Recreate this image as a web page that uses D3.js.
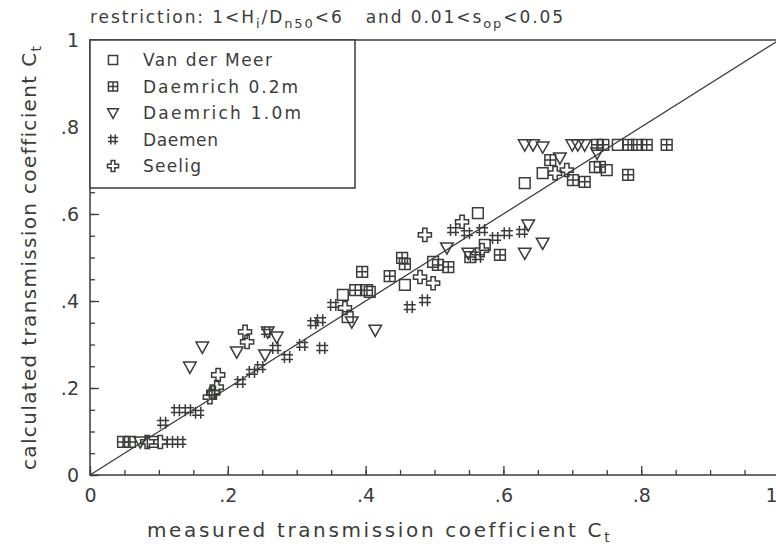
<!DOCTYPE html>
<html>
<head>
<meta charset="utf-8">
<script src="https://cdn.jsdelivr.net/npm/d3@7/dist/d3.min.js"></script>
<style>
  html, body { margin: 0; padding: 0; background: #fff; overflow: hidden; }
  svg { display: block; }
  text { font-family: "DejaVu Sans", "Liberation Sans", sans-serif; fill: #3a3d3a; }
</style>
</head>
<body>
<svg id="chart" width="776" height="551"></svg>
<script>
// ---------- data (measured Ct, calculated Ct) ----------
const vanDerMeer = [
  [0.091,0.076],[0.367,0.414],[0.374,0.363],[0.406,0.421],[0.457,0.437],
  [0.498,0.490],[0.563,0.602],[0.573,0.529],[0.631,0.671],[0.657,0.694],
  [0.766,0.759],[0.733,0.708],[0.750,0.701]
];
const daemrich02 = [
  [0.048,0.076],[0.058,0.076],[0.395,0.467],[0.385,0.425],[0.402,0.425],
  [0.435,0.457],[0.453,0.499],[0.457,0.485],[0.505,0.483],[0.520,0.478],
  [0.552,0.501],[0.595,0.506],[0.668,0.724],[0.701,0.678],[0.718,0.674],
  [0.736,0.759],[0.745,0.759],[0.781,0.759],[0.794,0.759],[0.808,0.759],
  [0.837,0.759],[0.781,0.690],[0.740,0.708]
];
const daemrich10 = [
  [0.073,0.076],[0.145,0.248],[0.163,0.294],[0.213,0.283],[0.254,0.276],
  [0.271,0.317],[0.258,0.329],[0.380,0.352],[0.414,0.333],[0.518,0.522],
  [0.549,0.510],[0.636,0.575],[0.657,0.533],[0.631,0.510],
  [0.631,0.759],[0.643,0.759],[0.657,0.754],[0.682,0.729],
  [0.700,0.759],[0.708,0.759],[0.718,0.759],[0.736,0.740]
];
const daemen = [
  [0.116,0.076],[0.131,0.076],[0.106,0.120],[0.126,0.149],[0.142,0.149],
  [0.157,0.143],[0.177,0.189],[0.218,0.214],[0.235,0.237],[0.247,0.248],
  [0.269,0.292],[0.257,0.329],[0.286,0.271],[0.308,0.299],[0.337,0.292],
  [0.324,0.349],[0.334,0.356],[0.353,0.391],[0.464,0.386],[0.486,0.402],
  [0.527,0.563],[0.547,0.556],[0.569,0.563],[0.588,0.545],[0.605,0.556],
  [0.627,0.559],[0.563,0.501]
];
const seelig = [
  [0.083,0.076],[0.102,0.076],[0.184,0.202],[0.179,0.189],[0.174,0.179],
  [0.186,0.230],[0.225,0.329],[0.228,0.306],[0.370,0.384],[0.479,0.455],
  [0.498,0.441],[0.486,0.552],[0.540,0.582],[0.569,0.517],[0.675,0.694],
  [0.692,0.701]
];
const seriesNames = ["Van der Meer","Daemrich 0.2m","Daemrich 1.0m","Daemen","Seelig"];
const seriesSymbols = ["square","gridsquare","triangledown","hash","cross"];
const majorTicks = [0, 0.2, 0.4, 0.6, 0.8, 1];
const tickLabels = ["0", ".2", ".4", ".6", ".8", "1"];
const minorTicks = d3.range(0, 1.0001, 0.05);
const xTitle = "measured transmission coefficient C";
const yTitle = "calculated transmission coefficient C";

// ---------- layout ----------
const ink = "#3a3d3a";
const svg = d3.select("#chart");
const x = d3.scaleLinear().domain([0, 1]).range([90, 779]);
const y = d3.scaleLinear().domain([0, 1]).range([475, 40]);

function symbolPath(type, k = 1) {
  switch (type) {
    case "square": return d3.symbol(d3.symbolSquare, 115 * k * k)();
    case "gridsquare": { const s = 5.4 * k;
      return `M${-s},${-s}H${s}V${s}H${-s}Z M${-s},0H${s} M0,${-s}V${s}`; }
    case "triangledown": return `M${-6.3*k},${-5*k}L${6.3*k},${-5*k}L0,${6.3*k}Z`;
    case "hash": return `M${-2.6*k},${-6*k}V${6*k} M${2.6*k},${-6*k}V${6*k} M${-6*k},${-2.4*k}H${6*k} M${-6*k},${2.4*k}H${6*k}`;
    case "cross": return d3.symbol(d3.symbolCross, 95 * k * k)();
  }
}

// frame
svg.append("rect").attr("x", x(0)).attr("y", y(1))
  .attr("width", x(1) - x(0)).attr("height", y(0) - y(1))
  .attr("fill", "none").attr("stroke", ink).attr("stroke-width", 1.5);

// axes (ticks pointing inward)
const gx = svg.append("g").attr("transform", `translate(0,${y(0)})`);
gx.call(d3.axisBottom(x).tickValues(minorTicks).tickSize(-5).tickFormat(""));
const gxm = svg.append("g").attr("transform", `translate(0,${y(0)})`);
gxm.call(d3.axisBottom(x).tickValues(majorTicks).tickSize(-9).tickPadding(14)
  .tickFormat((d, i) => tickLabels[i]));
const gy = svg.append("g").attr("transform", `translate(${x(0)},0)`);
gy.call(d3.axisLeft(y).tickValues(minorTicks).tickSize(-5).tickFormat(""));
const gym = svg.append("g").attr("transform", `translate(${x(0)},0)`);
gym.call(d3.axisLeft(y).tickValues(majorTicks).tickSize(-9).tickPadding(11)
  .tickFormat((d, i) => tickLabels[i]));
svg.selectAll(".domain").remove();
svg.selectAll(".tick line").attr("stroke", ink).attr("stroke-width", 1.3);
svg.selectAll(".tick text").style("font-size", "19px").attr("fill", ink)
  .style("font-family", "'DejaVu Sans', sans-serif");
// last x label sits at the clipped right edge: keep it inside the picture
gxm.selectAll(".tick text").filter(d => d === 1).attr("text-anchor", "end").attr("x", -2);

// diagonal
svg.append("line").attr("x1", x(0)).attr("y1", y(0)).attr("x2", x(1)).attr("y2", y(1))
  .attr("stroke", ink).attr("stroke-width", 1.3);

// points
const allSeries = [vanDerMeer, daemrich02, daemrich10, daemen, seelig];
allSeries.forEach((data, i) => {
  svg.append("g").selectAll("path").data(data).join("path")
    .attr("d", symbolPath(seriesSymbols[i]))
    .attr("transform", d => `translate(${x(d[0])},${y(d[1])})`)
    .attr("fill", "none").attr("stroke", ink).attr("stroke-width", 1.5);
});

// legend
const legend = svg.append("g");
legend.append("rect").attr("x", x(0)).attr("y", y(1)).attr("width", 265).attr("height", 148)
  .attr("fill", "#fff").attr("stroke", ink).attr("stroke-width", 1.5);
seriesNames.forEach((name, i) => {
  const ly = 60 + i * 26.5;
  legend.append("path").attr("d", symbolPath(seriesSymbols[i], 0.85))
    .attr("transform", `translate(113,${ly})`)
    .attr("fill", "none").attr("stroke", ink).attr("stroke-width", 1.5);
  legend.append("text").attr("x", 143).attr("y", ly + 6).style("font-size", "17px").text(name);
});

function fit(sel, target) {
  const node = sel.node();
  const w = node.getComputedTextLength();
  const n = node.textContent.length;
  sel.style("letter-spacing", ((target - w) / Math.max(n - 1, 1)) + "px");
}
legend.selectAll("text").each(function(d, i) {
  const targets = [129, 155, 158, 75, 58];
  fit(d3.select(this), targets[i]);
});

// title with subscripts
const title = svg.append("text").attr("x", 90).attr("y", 23).style("font-size", "17px")
  .attr("xml:space", "preserve").style("white-space", "pre");
const parts = [
  ["restriction: 1<H", 0], ["i", 1], ["/D", 0], ["n50", 1], ["<6   and 0.01<s", 0], ["op", 1], ["<0.05", 0]
];
let prevSub = 0;
parts.forEach(([t, sub]) => {
  const ts = title.append("tspan").text(t);
  if (sub && !prevSub) ts.attr("dy", 5);
  if (sub) ts.style("font-size", "13px");
  if (!sub && prevSub) ts.attr("dy", -5);
  prevSub = sub;
});
{ const w = title.node().getComputedTextLength();
  title.style("letter-spacing", ((475 - w) / 44) + "px"); }

// axis titles
const xt = svg.append("text").attr("x", 147).attr("y", 537).style("font-size", "20px");
xt.append("tspan").text(xTitle);
xt.append("tspan").text("t").attr("dy", 5).style("font-size", "14px");
{ const w = xt.node().getComputedTextLength();
  xt.style("letter-spacing", ((465 - w) / 36) + "px"); }

const yt = svg.append("text").attr("transform", "translate(36,470) rotate(-90)").style("font-size", "20px");
yt.append("tspan").text(yTitle);
yt.append("tspan").text("t").attr("dy", 5).style("font-size", "14px");
{ const w = yt.node().getComputedTextLength();
  yt.style("letter-spacing", ((425 - w) / 38) + "px"); }
</script>
</body>
</html>
